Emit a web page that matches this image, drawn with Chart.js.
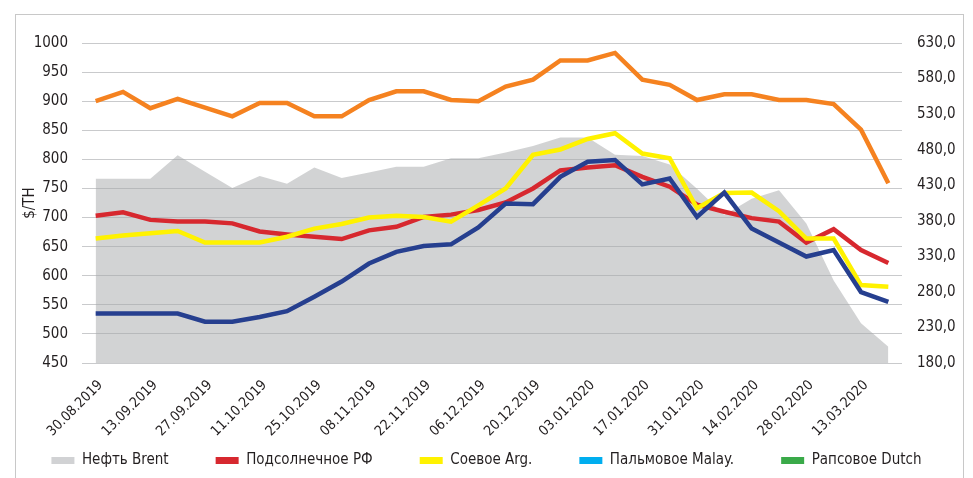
<!DOCTYPE html>
<html><head><meta charset="utf-8">
<script src="https://cdn.jsdelivr.net/npm/chart.js@4.4.1/dist/chart.umd.min.js"></script>
<style>
html,body{margin:0;padding:0;background:#fff;}
#wrap{position:relative;width:973px;height:478px;overflow:hidden;}
#frame{position:absolute;left:15px;top:14px;width:947px;height:480px;border:1px solid #c8c8c8;border-bottom:none;pointer-events:none;}
canvas{position:absolute;left:0;top:0;}
</style></head><body>
<div id="wrap"><canvas id="c" width="973" height="478"></canvas><div id="frame"></div></div>
<script>
const dates = ['30.08.2019','06.09.2019','13.09.2019','20.09.2019','27.09.2019','04.10.2019','11.10.2019','18.10.2019','25.10.2019','01.11.2019','08.11.2019','15.11.2019','22.11.2019','29.11.2019','06.12.2019','13.12.2019','20.12.2019','27.12.2019','03.01.2020','10.01.2020','17.01.2020','24.01.2020','31.01.2020','07.02.2020','14.02.2020','21.02.2020','28.02.2020','06.03.2020','13.03.2020','20.03.2020'];
const brent     = [439,439,439,472,449,426,443,432,455,440,448,456,456,468,468,476,485,497,497,473,471,459,425,388,411,423,376,296,236,203];
const sunflower = [703,709,696,693,693,690,676,671,667,663,678,684,701,705,713,726,750,781,786,790,770,753,722,710,699,693,657,680,644,622];
const soy       = [664,669,673,677,657,657,657,667,681,689,700,703,701,693,721,750,808,817,835,845,810,802,716,742,743,711,664,664,584,581];
const palm      = [535,535,535,535,521,521,529,539,564,590,621,641,651,654,683,724,723,770,796,799,757,767,701,743,681,657,633,644,572,555];
const rapeseed  = [900,916,888,904,889,874,897,897,874,874,902,917,917,902,900,925,937,970,970,983,937,928,902,912,912,902,902,895,851,759];
const legendNames  = ['Нефть Brent','Подсолнечное РФ','Соевое Arg.','Пальмовое Malay.','Рапсовое Dutch'];
const legendColors = ['#d1d2d4','#d7282f','#fff200','#00aeef','#3aaa49'];
const leftTicks = {min:450, max:1000, step:50};
const rightTicks = {min:180, max:630, step:50};

const FONT = "'DejaVu Sans Condensed','Liberation Sans Narrow',sans-serif";
Chart.defaults.font.family = FONT;
Chart.defaults.font.size = 14;
Chart.defaults.color = '#231f20';

const LEG_FONT = 15, LEG_PAD = 47;
const AREA_BOTTOM = 363, H = 478;
const lw = 4.5;
new Chart(document.getElementById('c'), {
  type: 'line',
  data: {
    labels: dates,
    datasets: [
      {label: legendNames[0], data: brent, yAxisID: 'y1', fill: 'start', backgroundColor: 'rgba(165,168,170,0.5)', borderWidth: 0, borderColor: 'rgba(0,0,0,0)', pointRadius: 0, tension: 0, order: 5},
      {label: legendNames[1], data: sunflower, yAxisID: 'y', borderColor: '#d7282f', borderWidth: lw, pointRadius: 0, tension: 0, fill: false, order: 3},
      {label: legendNames[2], data: soy, yAxisID: 'y', borderColor: '#fff200', borderWidth: lw, pointRadius: 0, tension: 0, fill: false, order: 2},
      {label: legendNames[3], data: palm, yAxisID: 'y', borderColor: '#263f8f', borderWidth: lw, pointRadius: 0, tension: 0, fill: false, order: 1},
      {label: legendNames[4], data: rapeseed, yAxisID: 'y', borderColor: '#f58220', borderWidth: lw, pointRadius: 0, tension: 0, fill: false, order: 4}
    ]
  },
  options: {
    responsive: false,
    animation: false,
    devicePixelRatio: 1,
    layout: {padding: {left: 0, right: 0, top: 43, bottom: 0}},
    plugins: {
      tooltip: {enabled: false},
      legend: {
        position: 'bottom',
        labels: {
          boxWidth: 23, boxHeight: 7, padding: LEG_PAD, color: '#231f20',
          font: {size: LEG_FONT},
          generateLabels: () => legendNames.map((t, i) => ({text: t, fillStyle: legendColors[i], strokeStyle: legendColors[i], lineWidth: 0, hidden: false, datasetIndex: i, fontColor: '#231f20'}))
        }
      }
    },
    scales: {
      x: {
        offset: true,
        grid: {display: false},
        border: {display: false},
        afterFit: s => {
          s.height = H - AREA_BOTTOM - (LEG_FONT + LEG_PAD + 10);
          s._computeLabelArea = () => undefined; // let rotated labels extend below the axis box
        },
        ticks: {
          autoSkip: false, maxRotation: 45, minRotation: 45, padding: 6, labelOffset: 5,
          font: {size: 14},
          callback: (v, i) => (i % 2 === 0 ? dates[i] : '')
        }
      },
      y: {
        position: 'left',
        min: leftTicks.min, max: leftTicks.max,
        afterFit: s => { s.width = 82; },
        border: {display: false},
        grid: {color: '#c9cacc', lineWidth: 1, drawTicks: false},
        title: {display: true, text: '$/TH', font: {size: 15}, padding: {top: 21, bottom: 0}},
        ticks: {stepSize: leftTicks.step, padding: 14, font: {size: 15}, callback: v => String(v)}
      },
      y1: {
        position: 'right',
        min: rightTicks.min, max: rightTicks.max,
        afterFit: s => { s.width = 71; },
        border: {display: false},
        grid: {drawOnChartArea: false, drawTicks: false},
        ticks: {stepSize: rightTicks.step, padding: 15, font: {size: 15},
          callback: v => Number(v).toFixed(1).replace('.', ',')}
      }
    }
  }
});
</script>
</body></html>
